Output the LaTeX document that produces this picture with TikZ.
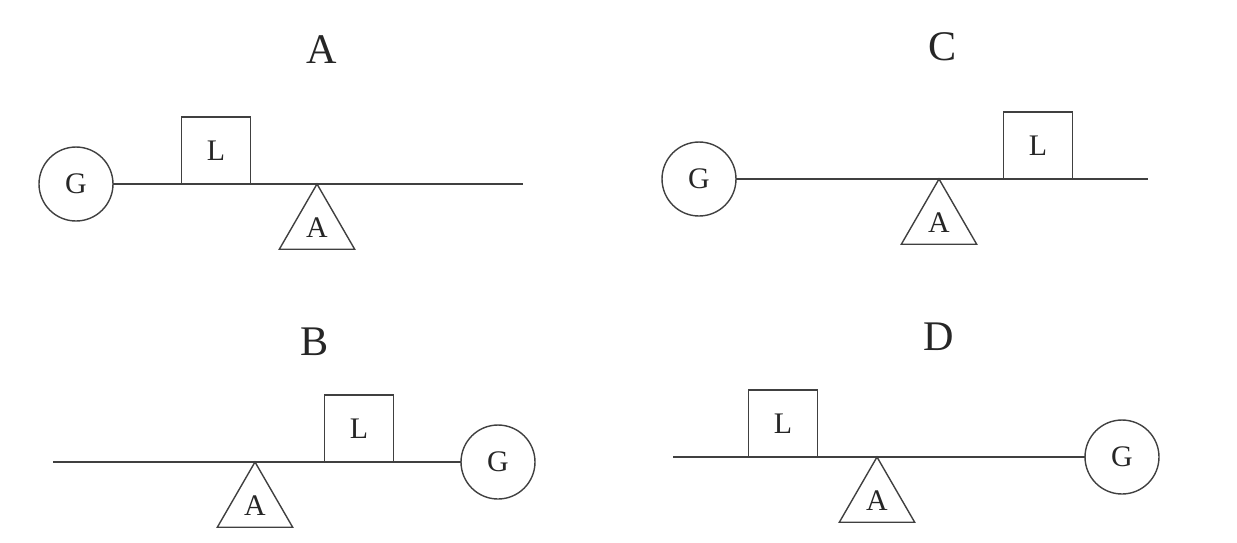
\documentclass[tikz,border=0pt]{standalone}
\usepackage{fontspec}
\setmainfont{Liberation Serif}
\usepackage{tikz}
\usetikzlibrary{shapes.geometric, positioning}
\tikzstyle{part} = [draw=black!75, line width=0.8pt, text=black!85, inner sep=0pt, outer sep=0pt, font=\fontsize{17}{20}\selectfont]
\tikzstyle{gen} = [part, circle, minimum size=1.48cm]
\tikzstyle{load} = [part, rectangle, minimum width=1.38cm, minimum height=1.34cm, anchor=south]
\tikzstyle{pivot} = [part, regular polygon, regular polygon sides=3, minimum size=1.74cm, anchor=corner 1]
\tikzstyle{title} = [text=black!85, font=\fontsize{24}{28}\selectfont]
\tikzstyle{beam} = [draw=black!75, line width=0.8pt]

\begin{document}
\begin{tikzpicture}[x=0.02cm, y=-0.02cm]
    \useasboundingbox (0,0) rectangle (1237,542);

    % Panel A.
    \node (title A) [title] at (322,50) {A};
    \node (gen A) [gen] at (76,184) {G};
    \coordinate (beam A end) at (523,184);
    \draw [beam] (gen A) -- (beam A end);
    \node (load A) [load] at (216,184) {L};
    \node (pivot A) [pivot] at (317,184) {A};

    % Panel C.
    \node (title C) [title] at (943,47) {C};
    \node (gen C) [gen] at (699,179) {G};
    \coordinate (beam C end) at (1148,179);
    \draw [beam] (gen C) -- (beam C end);
    \node (load C) [load] at (1038,179) {L};
    \node (pivot C) [pivot] at (939,179) {A};

    % Panel B.
    \node (title B) [title] at (315,342) {B};
    \node (gen B) [gen] at (498,462) {G};
    \coordinate (beam B end) at (53,462);
    \draw [beam] (beam B end) -- (gen B);
    \node (load B) [load] at (359,462) {L};
    \node (pivot B) [pivot] at (255,462) {A};

    % Panel D.
    \node (title D) [title] at (939,337) {D};
    \node (gen D) [gen] at (1122,457) {G};
    \coordinate (beam D end) at (673,457);
    \draw [beam] (beam D end) -- (gen D);
    \node (load D) [load] at (783,457) {L};
    \node (pivot D) [pivot] at (877,457) {A};
\end{tikzpicture}
\end{document}
